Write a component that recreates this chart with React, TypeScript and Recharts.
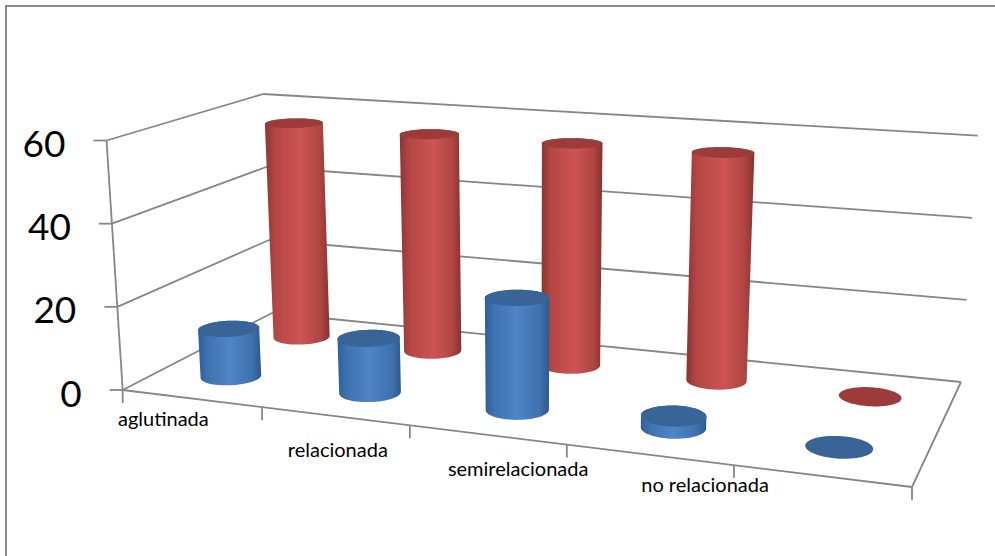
import React from 'react';
import { ComposedChart, Bar, XAxis, YAxis, CartesianGrid } from 'recharts';

const categories = ['aglutinada', 'relacionada', 'semirelacionada', 'no relacionada', ''];
const blueValues = [11.7, 13, 26, 2.7, 0];
const redValues = [56.2, 55.7, 55.7, 55.7, 0];
const yTicks = [0, 20, 40, 60];
const rows = categories.map((name, i) => ({ name, blue: blueValues[i], red: redValues[i] }));

const W = 995, H = 556;
const PL = 100, PR = 900, PT = 141, PB = 391;
const LINE = '#868686';
const VANISH: [number, number] = [532, 6703];

type P = [number, number];
const homography = (q: P[]) => {
  const [[x0, y0], [x1, y1], [x2, y2], [x3, y3]] = q;
  const dx1 = x1 - x2, dx2 = x3 - x2, sx = x0 - x1 + x2 - x3;
  const dy1 = y1 - y2, dy2 = y3 - y2, sy = y0 - y1 + y2 - y3;
  const den = dx1 * dy2 - dx2 * dy1;
  const g = (sx * dy2 - dx2 * sy) / den, h = (dx1 * sy - sx * dy1) / den;
  const a = x1 - x0 + g * x1, b = x3 - x0 + h * x3;
  const d = y1 - y0 + g * y1, e = y3 - y0 + h * y3;
  return (u: number, v: number): P => {
    const w = g * u + h * v + 1;
    return [(a * u + b * v + x0) / w, (d * u + e * v + y0) / w];
  };
};
// box corners in order: front-left, front-right, back-right, back-left
const floorMap = homography([[122.7, 390], [912, 487], [961, 382], [272, 313]]);
const ceilMap = homography([[106.5, 140.5], [930, 190.5], [977.7, 135.7], [263, 94]]);
const project = (u0: number, v: number, f: number): P => {
  const u = u0 + 0.025 * u0 * (1 - u0);
  const a = floorMap(u, v), b = ceilMap(u, v);
  const y = a[1] + (b[1] - a[1]) * f;
  const slope = (a[0] - VANISH[0]) / (a[1] - VANISH[1]);
  return [a[0] + (y - a[1]) * slope, y];
};

const hull = (pts: P[]): P[] => {
  const s = [...pts].sort((a, b) => a[0] - b[0] || a[1] - b[1]);
  const cross = (o: P, a: P, b: P) => (a[0] - o[0]) * (b[1] - o[1]) - (a[1] - o[1]) * (b[0] - o[0]);
  const lo: P[] = [], up: P[] = [];
  for (const p of s) {
    while (lo.length > 1 && cross(lo[lo.length - 2], lo[lo.length - 1], p) <= 0) lo.pop();
    lo.push(p);
  }
  for (const p of [...s].reverse()) {
    while (up.length > 1 && cross(up[up.length - 2], up[up.length - 1], p) <= 0) up.pop();
    up.push(p);
  }
  return lo.slice(0, -1).concat(up.slice(0, -1));
};
const toPath = (pts: P[]) => 'M' + pts.map((p) => `${p[0].toFixed(2)},${p[1].toFixed(2)}`).join('L') + 'Z';

const R_U = 0.039, R_V = 0.098;
const circle = (u: number, v: number, f: number): P[] => {
  const out: P[] = [];
  for (let i = 0; i < 60; i++) {
    const t = (i / 60) * Math.PI * 2;
    out.push(project(u + R_U * Math.cos(t), v + R_V * Math.sin(t), f));
  }
  return out;
};

const cylinder = (depth: number, gradient: string, cap: string) => (props: any) => {
  const { x, width, height } = props;
  const u = (x + width / 2 - PL) / (PR - PL);
  const f = Math.max(0, height) / (PB - PT);
  const base = circle(u, depth, 0);
  const top = circle(u, depth, f);
  return (
    <g>
      {f > 0 && <path d={toPath(hull([...base, ...top]))} fill={`url(#${gradient})`} />}
      <path d={toPath(top)} fill={cap} />
    </g>
  );
};

const wallLine = (props: any) => {
  const f = (PB - props.y1) / (PB - PT);
  const a = project(0, 0, f), b = project(0, 1, f), c = project(1, 1, f);
  const lines: [P, P][] = [[a, b], [b, c]];
  if (f < 0.01) {
    lines.push([project(0, 0, 0), project(1, 0, 0)], [project(1, 0, 0), project(1, 1, 0)], [project(0, 0, 0), project(0, 0, 1)]);
    for (let i = 0; i <= categories.length; i++) {
      const p = project(i / categories.length, 0, 0);
      lines.push([p, [p[0], p[1] + 13]]);
    }
  }
  return (
    <g key={props.key}>
      {lines.map(([s, e], i) => (
        <line key={i} x1={s[0]} y1={s[1]} x2={e[0]} y2={e[1]} stroke={LINE} strokeWidth={1.8} />
      ))}
    </g>
  );
};

const YTick = (props: any) => {
  const f = (PB - props.y) / (PB - PT);
  const p = project(0, 0, f);
  return (
    <g>
      <line x1={p[0] - 13} y1={p[1]} x2={p[0]} y2={p[1]} stroke={LINE} strokeWidth={1.8} />
      <text x={p[0] - 41} y={p[1] + 2} textAnchor="end" dominantBaseline="central" fontFamily="Lato" fontSize={37} fill="#000">
        {props.payload.value}
      </text>
    </g>
  );
};

const LABEL_SHIFT: P[] = [[-28, 20], [3, 33], [31, 33], [56, 29], [0, 0]];
const XTick = (props: any) => {
  const u = (props.x - PL) / (PR - PL);
  const p = project(u, 0, 0);
  const s = LABEL_SHIFT[props.index] || [0, 0];
  return (
    <text x={p[0] + s[0]} y={p[1] + s[1]} textAnchor="middle" dominantBaseline="central" fontFamily="Lato" fontSize={20} fill="#000">
      {props.payload.value}
    </text>
  );
};

export default function App() {
  return (
    <div style={{ position: 'absolute', left: 0, top: 0, width: W, height: H, overflow: 'hidden', background: '#fff' }}>
      <div style={{ position: 'absolute', left: 5, top: 5, width: 990, height: 551, borderLeft: '2px solid #8a8a8a', borderTop: '2px solid #8a8a8a', boxSizing: 'border-box' }} />
      <ComposedChart
        width={W}
        height={H}
        data={rows}
        margin={{ top: PT, right: W - PR, bottom: 0, left: 0 }}
        barSize={40}
        barGap={-40}
        style={{ position: 'absolute', left: 0, top: 0 }}
      >
        <defs>
          <linearGradient id="redBody" x1="0" y1="0" x2="1" y2="0">
            <stop offset="0" stopColor="#8c3533" />
            <stop offset="0.15" stopColor="#b34644" />
            <stop offset="0.55" stopColor="#cd5452" />
            <stop offset="0.85" stopColor="#b04543" />
            <stop offset="1" stopColor="#883230" />
          </linearGradient>
          <linearGradient id="blueBody" x1="0" y1="0" x2="1" y2="0">
            <stop offset="0" stopColor="#2f5f97" />
            <stop offset="0.15" stopColor="#3f72b0" />
            <stop offset="0.5" stopColor="#4f84c7" />
            <stop offset="0.85" stopColor="#3f71ad" />
            <stop offset="1" stopColor="#2d5a8f" />
          </linearGradient>
        </defs>
        <CartesianGrid vertical={false} horizontal={wallLine} />
        <XAxis dataKey="name" height={H - PB} axisLine={false} tickLine={false} interval={0} tick={XTick} />
        <YAxis width={PL} domain={[0, 60]} ticks={yTicks} axisLine={false} tickLine={false} tick={YTick} />
        <Bar dataKey="red" isAnimationActive={false} shape={cylinder(0.75, 'redBody', '#9c3b39')} />
        <Bar dataKey="blue" isAnimationActive={false} shape={cylinder(0.25, 'blueBody', '#396497')} />
      </ComposedChart>
    </div>
  );
}
